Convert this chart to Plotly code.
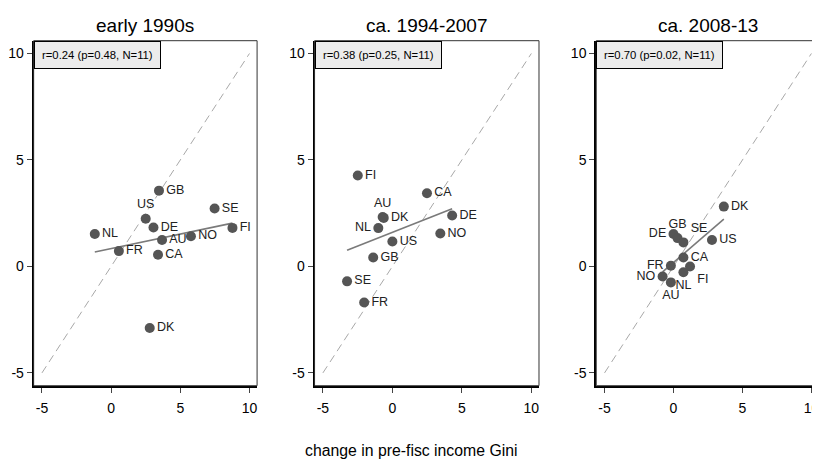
import numpy as np
import plotly.graph_objects as go

# --- data ---------------------------------------------------------------
panel_titles = ["early 1990s", "ca. 1994-2007", "ca. 2008-13"]
stat_labels = [
    "r=0.24 (p=0.48, N=11)",
    "r=0.38 (p=0.25, N=11)",
    "r=0.70 (p=0.02, N=11)",
]

p1_country = ["GB", "US", "DE", "NL", "AU", "NO", "SE", "FI", "FR", "CA", "DK"]
p1_x = [3.46, 2.50, 3.06, -1.18, 3.68, 5.77, 7.48, 8.77, 0.56, 3.39, 2.79]
p1_y = [3.56, 2.24, 1.83, 1.52, 1.24, 1.42, 2.72, 1.81, 0.72, 0.55, -2.89]
p1_pos = ["middle right", "top center", "middle right", "middle right",
          "middle right", "middle right", "middle right", "middle right",
          "middle right", "middle right", "middle right"]

p2_country = ["FI", "CA", "AU", "DK", "DE", "NL", "US", "NO", "GB", "SE", "FR"]
p2_x = [-2.49, 2.49, -0.70, -0.62, 4.30, -1.01, 0.00, 3.45, -1.38, -3.26, -2.03]
p2_y = [4.27, 3.44, 2.32, 2.28, 2.39, 1.80, 1.17, 1.55, 0.42, -0.70, -1.69]
p2_pos = ["middle right", "middle right", "top center", "middle right",
          "middle right", "middle left", "middle right", "middle right",
          "middle right", "middle right", "middle right"]

p3_country = ["DK", "DE", "GB", "SE", "US", "CA", "FR", "FI", "NL", "NO", "AU"]
p3_x = [3.65, 0.00, 0.29, 0.72, 2.79, 0.72, -0.19, 1.20, 0.72, -0.79, -0.19]
p3_y = [2.81, 1.52, 1.33, 1.13, 1.24, 0.42, 0.03, 0.00, -0.27, -0.47, -0.75]
p3_pos = ["middle right", "middle left", "top center", "top right",
          "middle right", "middle right", "middle left", "bottom right",
          "bottom center", "middle left", "bottom center"]

diag = [-5, 10]
ticks = [-5, 0, 5, 10]
tick_text = ["-5", "0", "5", "10"]

panels = [
    (p1_country, p1_x, p1_y, p1_pos),
    (p2_country, p2_x, p2_y, p2_pos),
    (p3_country, p3_x, p3_y, p3_pos),
]

FONT = "Liberation Sans Narrow, Arial Narrow, Liberation Sans, Arial, sans-serif"

# the page body has an 8px margin; keep the page from overflowing vertically
PAGE_OFF = 8
W, H = 820 - PAGE_OFF, 467 - 2 * PAGE_OFF


def px(x):
    return (x - PAGE_OFF) / W


def py(y):
    return 1 - (y - PAGE_OFF) / H


# panel edges in screen pixels
x_domains = [[px(31.7), px(255.7)], [px(313.3), px(538.3)], [px(595.7), px(819.0)]]
y_domain = [py(385.7), py(40.7)]

fig = go.Figure()
annotations = []
shapes = []

for i, (names, xs, ys, pos) in enumerate(panels):
    n = "" if i == 0 else str(i + 1)
    xref, yref = "x" + n, "y" + n

    # 45-degree reference line
    fig.add_trace(go.Scatter(
        x=diag, y=diag, mode="lines", xaxis=xref, yaxis=yref,
        line=dict(color="#a8a8a8", width=1, dash="8px,5px"),
        showlegend=False, hoverinfo="skip",
    ))

    # OLS fit over the observed range
    slope, icpt = np.polyfit(xs, ys, 1)
    fx = [min(xs), max(xs)]
    fig.add_trace(go.Scatter(
        x=fx, y=[icpt + slope * v for v in fx], mode="lines",
        xaxis=xref, yaxis=yref,
        line=dict(color="#7a7a7a", width=1.6),
        showlegend=False, hoverinfo="skip",
    ))

    fig.add_trace(go.Scatter(
        x=xs, y=ys, mode="markers+text", text=names, textposition=pos,
        xaxis=xref, yaxis=yref,
        marker=dict(size=10, color="#555555"),
        textfont=dict(family=FONT, size=12.5, color="#222222"),
        showlegend=False,
    ))

    axis_common = dict(
        tickvals=ticks, ticktext=tick_text, ticks="outside", ticklen=5,
        tickcolor="#444444", showgrid=False, zeroline=False, showline=True,
        linewidth=2, linecolor="black", ticklabeloverflow="allow",
        tickfont=dict(family=FONT, size=14, color="black"),
    )
    fig.update_layout(**{
        "xaxis" + n: dict(axis_common, domain=x_domains[i], anchor=yref,
                          range=[-5.6, 10.55], ticklabelstandoff=3),
        "yaxis" + n: dict(axis_common, domain=y_domain, anchor=xref,
                          range=[-5.6, 10.6]),
    })

    # thin frame round the plot region
    shapes.append(dict(type="rect", xref=xref + " domain", yref=yref + " domain",
                       x0=0, x1=1, y0=0, y1=1, line=dict(color="#333333", width=1)))

    annotations.append(dict(
        text=panel_titles[i], xref="paper", yref="paper",
        x=sum(x_domains[i]) / 2, y=py(25), xanchor="center", yanchor="middle",
        showarrow=False, font=dict(family=FONT, size=19, color="black"),
    ))
    annotations.append(dict(
        text=stat_labels[i], xref=xref + " domain", yref=yref + " domain",
        x=0, y=1, xanchor="left", yanchor="top", showarrow=False,
        bgcolor="#ececec", bordercolor="black", borderwidth=1, borderpad=7,
        font=dict(family=FONT, size=11.3, color="black"),
    ))

annotations.append(dict(
    text="change in pre-fisc income Gini", xref="paper", yref="paper",
    x=px(410), y=py(450), xanchor="center", yanchor="middle", showarrow=False,
    font=dict(family=FONT, size=15.8, color="black"),
))

fig.update_layout(
    width=W, height=H,
    margin=dict(l=0, r=0, t=0, b=0),
    paper_bgcolor="white", plot_bgcolor="white",
    annotations=annotations, shapes=shapes,
)

fig.write_html("out.html")
